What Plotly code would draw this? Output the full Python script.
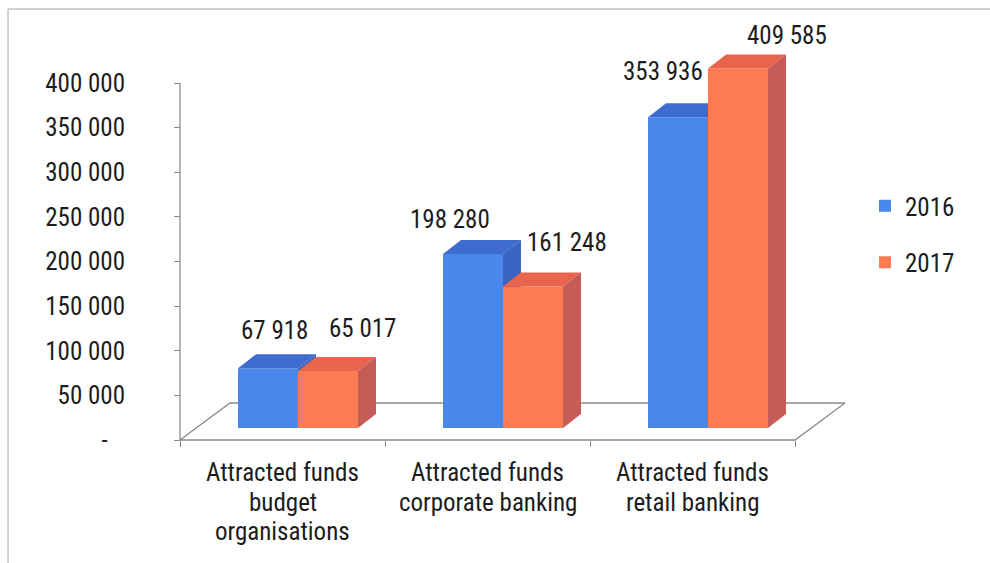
import plotly.graph_objects as go

# ---- data ----
categories = [
    "Attracted funds<br>budget<br>organisations",
    "Attracted funds<br>corporate banking",
    "Attracted funds<br>retail banking",
]
years = ["2016", "2017"]
funds_2016 = [67918, 198280, 353936]
funds_2017 = [65017, 161248, 409585]
y_tick_values = [0, 50000, 100000, 150000, 200000, 250000, 300000, 350000, 400000]

# ---- geometry (pixels) ----
FONT = "Roboto Condensed, Liberation Sans, Arial, sans-serif"
FSIZE = 25
TEXT = "#1c1c1c"
PX_X = 205.0                 # pixels per category slot
K1 = 357 / 400000            # value axis scale, px per unit
K2 = 0.000878                # bar scale, px per unit
L, R, T, B = 176, 846, 20, 443
W, H = R - L, B - T
AXIS_X_PX, AXIS_Y_PX = 180, 440
BAR_BASE_PX = 428

BAR_W = 60 / PX_X
OFFSETS = [-44.5 / PX_X, 15.5 / PX_X]
DEPTH_X = 18 / PX_X
DEPTH_Y = 14 / K2
FLOOR_X = 50 / PX_X
FLOOR_Y = 37 / K1

x0 = -0.5 - (AXIS_X_PX - L) / PX_X
x_range = [x0, x0 + W / PX_X]
y_range = [-(B - AXIS_Y_PX) / K1, (AXIS_Y_PX - T) / K1]
y2_range = [-(B - BAR_BASE_PX) / K2, (BAR_BASE_PX - T) / K2]

colors = {
    "2016": dict(front="#4a87ea", top="#3f6cd0", side="#3c64c2"),
    "2017": dict(front="#fd7b52", top="#e8644c", side="#c65c57"),
}
# label shifts (px) relative to each bar's front-top centre
label_shift = {
    "2016": [(6, 38), (-23, 34), (-15, 46)],
    "2017": [(34, 42), (34, 44), (49, 33)],
}


def fmt(v):
    return f"{v:,}".replace(",", " ")


fig = go.Figure()

# floor outline and vertical axis line on the base subplot
fig.add_trace(go.Scatter(
    x=[-0.5, 2.5, 2.5 + FLOOR_X, -0.5 + FLOOR_X, -0.5],
    y=[0, 0, FLOOR_Y, FLOOR_Y, 0],
    mode="lines", line=dict(color="#8a8a8a", width=1.3),
    hoverinfo="skip", showlegend=False,
))
fig.add_trace(go.Scatter(
    x=[-0.5, -0.5], y=[0, max(y_tick_values)],
    mode="lines", line=dict(color="#8a8a8a", width=1.3),
    hoverinfo="skip", showlegend=False,
))

annotations = []
series = [("2016", funds_2016, "y2"), ("2017", funds_2017, "y3")]
for s, (name, vals, yax) in enumerate(series):
    c = colors[name]
    # front faces
    fig.add_trace(go.Bar(
        x=list(range(len(categories))), y=vals, name=name, legendgroup=name,
        width=BAR_W, offset=OFFSETS[s], yaxis=yax,
        marker=dict(color=c["front"], line=dict(width=0)),
    ))
    for i, v in enumerate(vals):
        xl = i + OFFSETS[s]
        xr = xl + BAR_W
        # top face
        fig.add_trace(go.Scatter(
            x=[xl, xr, xr + DEPTH_X, xl + DEPTH_X, xl],
            y=[v, v, v + DEPTH_Y, v + DEPTH_Y, v],
            fill="toself", fillcolor=c["top"], mode="lines",
            line=dict(width=0, color=c["top"]), yaxis=yax,
            legendgroup=name, hoverinfo="skip", showlegend=False,
        ))
        # side face
        fig.add_trace(go.Scatter(
            x=[xr, xr + DEPTH_X, xr + DEPTH_X, xr, xr],
            y=[0, DEPTH_Y, v + DEPTH_Y, v, 0],
            fill="toself", fillcolor=c["side"], mode="lines",
            line=dict(width=0, color=c["side"]), yaxis=yax,
            legendgroup=name, hoverinfo="skip", showlegend=False,
        ))
        dx, dy = label_shift[name][i]
        annotations.append(dict(
            x=xl + BAR_W / 2, y=v, xref="x", yref=yax,
            text=fmt(v), showarrow=False, xshift=dx, yshift=dy,
            xanchor="center", yanchor="middle",
            font=dict(family=FONT, size=FSIZE, color=TEXT),
        ))

# category labels, one annotation per line
line_offsets = [32, 62, 91]
for i, cat in enumerate(categories):
    for j, line in enumerate(cat.split("<br>")):
        annotations.append(dict(
            x=i, y=(B - AXIS_Y_PX) / H, xref="x", yref="paper",
            text=line, showarrow=False, yshift=-line_offsets[j],
            xanchor="center", yanchor="middle",
            font=dict(family=FONT, size=FSIZE, color=TEXT),
        ))

tick_text = [fmt(v) if v else "-\u00a0\u00a0\u00a0" for v in y_tick_values]

fig.update_layout(
    width=990, height=563,
    margin=dict(l=L, r=990 - R, t=T, b=563 - B),
    paper_bgcolor="white", plot_bgcolor="white",
    barmode="overlay",
    font=dict(family=FONT, size=FSIZE, color=TEXT),
    xaxis=dict(
        range=x_range, tickvals=[-0.5, 0.5, 1.5, 2.5], showticklabels=False,
        ticks="outside", ticklen=6, tickcolor="#8a8a8a", tickwidth=1.3,
        showgrid=False, zeroline=False, showline=False,
        anchor="free", position=(B - AXIS_Y_PX) / H,
    ),
    yaxis=dict(
        range=y_range, tickvals=y_tick_values, ticktext=tick_text,
        ticks="outside", ticklen=6, tickcolor="#8a8a8a", tickwidth=1.3,
        showgrid=False, zeroline=False, showline=False,
        anchor="free", position=(AXIS_X_PX - L) / W,
        ticklabelstandoff=44,
        tickfont=dict(family=FONT, size=FSIZE, color=TEXT),
    ),
    yaxis2=dict(range=y2_range, overlaying="y", visible=False),
    yaxis3=dict(range=y2_range, overlaying="y", visible=False),
    legend=dict(
        x=(865 - L) / W, y=(B - 234) / H, xanchor="left", yanchor="middle",
        font=dict(family=FONT, size=FSIZE, color=TEXT),
        tracegroupgap=21, traceorder="grouped", bgcolor="rgba(0,0,0,0)",
    ),
    annotations=annotations,
    shapes=[dict(
        type="rect", xref="paper", yref="paper",
        x0=(8 - L) / W, x1=1.4, y0=-0.5, y1=(B - 9) / H,
        line=dict(color="#a6a6a6", width=1), layer="below",
    )],
    showlegend=True,
)

fig.write_html("out.html")
